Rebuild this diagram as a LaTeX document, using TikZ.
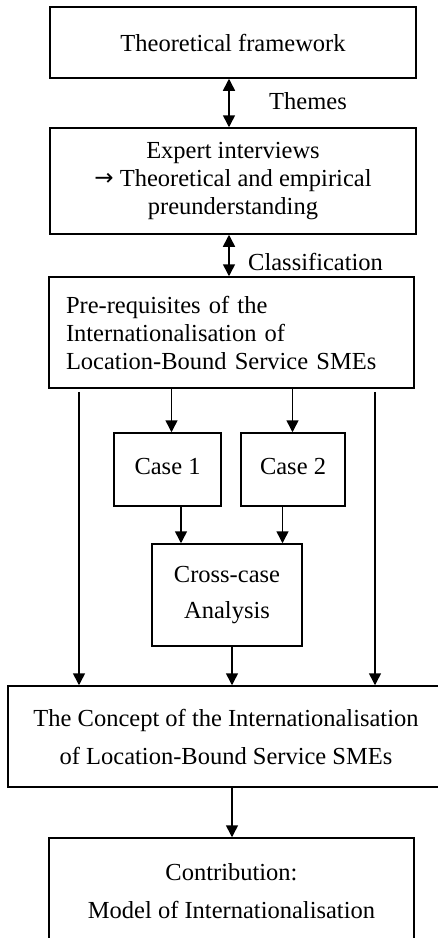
\documentclass[tikz,border=0pt]{standalone}
\usepackage{fontspec}
\setmainfont{Liberation Serif}
\newfontfamily\arrowfont{DejaVu Sans}
\usetikzlibrary{arrows.meta}
\begin{document}
\begin{tikzpicture}[x=1pt,y=-1pt,
  box/.style={draw, line width=1.5pt, inner sep=0pt, align=center,
    font=\fontsize{24.5}{28}\selectfont},
  wide/.style={font=\fontsize{24.5}{38}\selectfont},
  casebox/.style={box, minimum height=73pt, text height=16pt, text depth=6pt},
  link/.style={line width=1.5pt, -{Triangle[length=12pt,width=12pt]}},
  both/.style={line width=1.5pt,
    {Triangle[length=12pt,width=12pt]}-{Triangle[length=12pt,width=12pt]}},
  lbl/.style={font=\fontsize{24.5}{28}\selectfont, inner sep=0pt}]
\useasboundingbox (0,0) rectangle (438,938);
\clip (0,0) rectangle (438,938);

% boxes
\node[box, minimum width=366pt, minimum height=71pt] (tf) at (233,42.5)
  {Theoretical framework};
\node[box, minimum width=366pt, minimum height=106pt] (ei) at (233,181)
  {Expert interviews\\ \raisebox{1pt}{\arrowfont\fontsize{23}{28}\selectfont →} Theoretical and empirical\\ preunderstanding};
\node[box, minimum width=365pt, minimum height=111pt, text width=331pt,
  inner xsep=17pt, align=left] (pre) at (231.5,332.5)
  {Pre-requisites of the\\ Internationalisation of\\ Location-Bound Service SMEs};
\node[casebox, minimum width=107pt] (c1) at (167.5,469.5) {Case 1};
\node[casebox, minimum width=104pt] (c2) at (293,469.5) {Case 2};
\node[box, minimum width=150pt, minimum height=102pt,
  font=\fontsize{24.5}{36}\selectfont] (cc) at (227,595)
  {Cross-case\\ Analysis};
\node[box, wide, minimum width=436pt, minimum height=101pt] (con) at (226,736.5)
  {The Concept of the Internationalisation\\ of Location-Bound Service SMEs};
\node[box, wide, minimum width=365pt, minimum height=106pt] (contr) at (231.5,891)
  {Contribution:\\ Model of Internationalisation};

% labels
\node[lbl] (themes) at (308,101) {Themes};
\node[lbl, anchor=west] (classif) at (248,262) {Classification};

% connectors
\draw[both] (tf.south -| 229,0) -- (ei.north -| 229,0);
\draw[both] (ei.south -| 229,0) -- (pre.north -| 229,0);
\draw[link] (pre.south -| 171.5,0) -- (c1.north -| 171.5,0);
\draw[link] (pre.south -| 292.5,0) -- (c2.north -| 292.5,0);
\draw[link] (c1.south -| 181,0) -- (cc.north -| 181,0);
\draw[link] (c2.south -| 282.5,0) -- (cc.north -| 282.5,0);
\draw[link] (cc.south -| 232,0) -- (con.north -| 232,0);
\draw[link] ([yshift=-3pt]pre.south -| 79,0) -- (con.north -| 79,0);
\draw[link] ([yshift=-3pt]pre.south -| 375,0) -- (con.north -| 375,0);
\draw[link] (con.south -| 232,0) -- (contr.north -| 232,0);
\end{tikzpicture}
\end{document}
